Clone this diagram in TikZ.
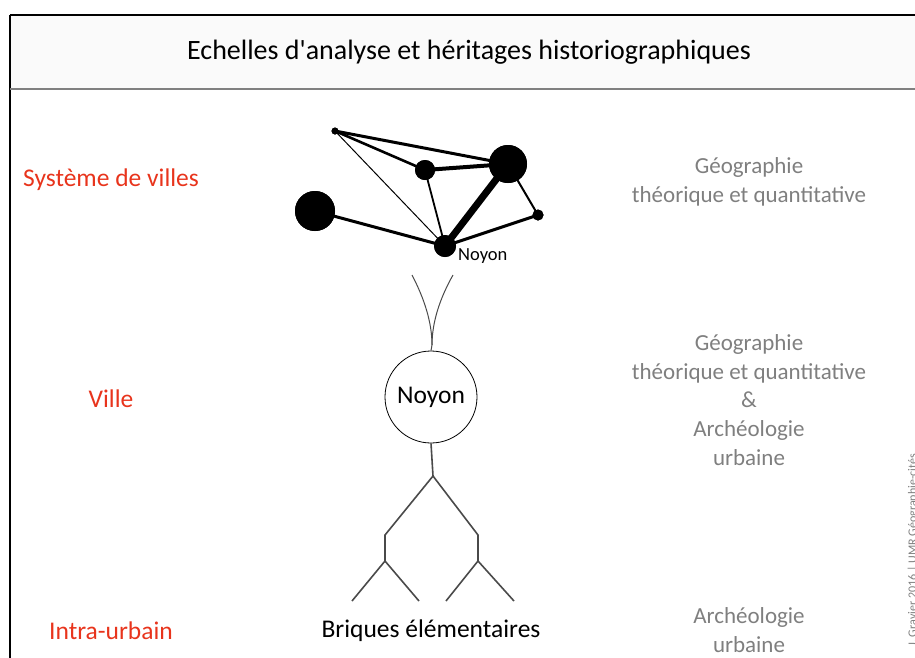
\documentclass[tikz,border=0pt]{standalone}
\usepackage{fontspec}
\setmainfont{Carlito}[Ligatures=TeXOff]
\definecolor{lblred}{HTML}{E8341C}
\definecolor{txtgray}{HTML}{7F7F7F}
\definecolor{treegray}{HTML}{4A4A4A}
\definecolor{titlebg}{HTML}{FAFAFA}
\begin{document}
\begin{tikzpicture}[x=1pt,y=-1pt,
  scalelbl/.style={text=lblred,font=\fontsize{25.5}{30}\selectfont,anchor=center},
  heritage/.style={text=txtgray,font=\fontsize{23}{28.8}\selectfont,align=center,anchor=center},
  city/.style={circle,fill=black,inner sep=0pt,minimum size=#1},
  link/.style={line width=#1,black},
  branch/.style={treegray,line width=1.6pt},
]
\useasboundingbox (0,0) rectangle (915,657);
\clip (0,0) rectangle (915,657);
% frame
\fill[titlebg] (10,15) rectangle (920,88);
\draw[black,line width=1.4pt] (10,15) -- (920,15);
\draw[black,line width=1.4pt] (10,15) -- (10,660);
\draw[gray,line width=2pt] (10,88.5) -- (920,88.5);
\node[font=\fontsize{28}{32}\selectfont] (title) at (469,52) {Echelles d'analyse et héritages historiographiques};

% left labels
\node[scalelbl] (l1) at (111,180) {Système de villes};
\node[scalelbl] (l2) at (111,399) {Ville};
\node[scalelbl] (l3) at (111,631) {Intra-urbain};

% right labels
\node[heritage] (r1) at (749,182) {Géographie\\théorique et quantitative};
\node[heritage] (r2) at (749,400) {Géographie\\théorique et quantitative\\\&\\Archéologie\\urbaine};
\node[heritage] (r3) at (749,630) {Archéologie\\urbaine};

% network
\node[city=7pt] (A) at (335,131) {};
\node[city=20pt] (B) at (425,170) {};
\node[city=38pt] (C) at (508,164) {};
\node[city=40pt] (D) at (315,211) {};
\node[city=11pt] (E) at (538,215) {};
\node[city=22pt] (N) at (445,246) {};
\draw[link=1pt] (A.center) -- (N.center);
\draw[link=3pt] (A.center) -- (C.center);
\draw[link=2.6pt] (A.center) -- (B.center);
\draw[link=4pt] (B.center) -- (C.center);
\draw[link=1.8pt] (B.center) -- (N.center);
\draw[link=7pt] (C.center) -- (N.center);
\draw[link=2pt] (C.center) -- (E.center);
\draw[link=3pt] (E.center) -- (N.center);
\draw[link=3pt] (D.center) -- (N.center);
\node[city=7pt] at (A) {};
\node[city=20pt] at (B) {};
\node[city=38pt] at (C) {};
\node[city=40pt] at (D) {};
\node[city=11pt] at (E) {};
\node[city=22pt] at (N) {};
\node[font=\fontsize{18.5}{22}\selectfont,anchor=west,inner sep=0pt] (nlbl) at (458,256) {Noyon};

% tree
\node[circle,draw=black,line width=0.8pt,minimum size=92pt,inner sep=0pt,font=\fontsize{25.5}{30}\selectfont] (ville) at (431,397) {Noyon};
\coordinate (top1) at (412,275);
\coordinate (top2) at (453,275);
\coordinate (join) at (432,345);
\draw[treegray,line width=1pt] (top1) .. controls (424,298) and (432,322) .. (join);
\draw[treegray,line width=1pt] (top2) .. controls (440,298) and (432,322) .. (join);
\draw[treegray,line width=1pt] (join) -- (ville.north);
\coordinate (fork) at (433,476);
\coordinate (bl) at (385,535);
\coordinate (br) at (478,535);
\coordinate (bl2) at (385,561);
\coordinate (br2) at (478,561);
\coordinate (l1a) at (352,601);
\coordinate (l1b) at (419,601);
\coordinate (l2a) at (446,601);
\coordinate (l2b) at (514,601);
\draw[branch] (ville.south) -- (fork);
\draw[branch] (bl2) -- (bl) -- (fork) -- (br) -- (br2);
\draw[branch] (l1a) -- (bl2) -- (l1b);
\draw[branch] (l2a) -- (br2) -- (l2b);
\node[font=\fontsize{25.5}{30}\selectfont] (briques) at (431,631) {Briques élémentaires};

% credit
\node[rotate=90,anchor=west,text=txtgray,font=\fontsize{12}{14}\selectfont] (credit) at (913,650) {J. Gravier 2016 | UMR Géographie-cités};
\end{tikzpicture}
\end{document}
